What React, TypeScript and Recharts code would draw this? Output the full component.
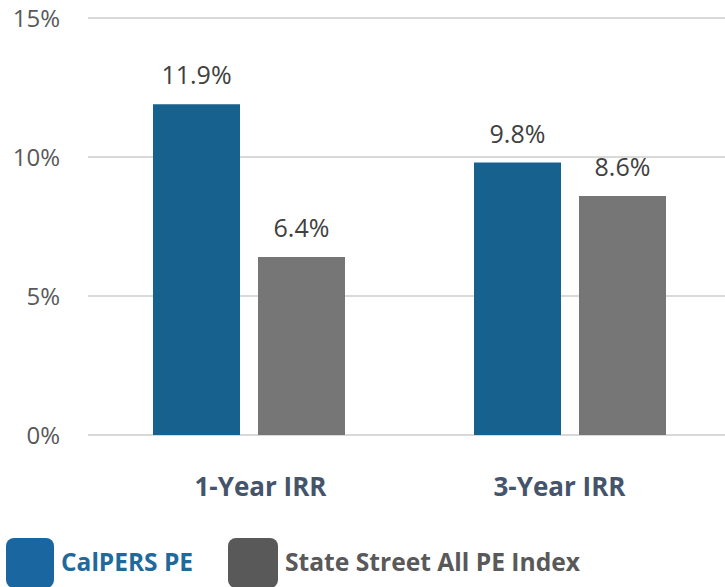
import React from "react";
import { BarChart, Bar, XAxis, YAxis, CartesianGrid, Legend, LabelList } from "recharts";

const categories = ["1-Year IRR", "3-Year IRR"];
const calpersValues = [11.9, 9.8];
const stateStreetValues = [6.4, 8.6];
const yTicks = [0, 5, 10, 15];
const seriesNames = ["CalPERS PE", "State Street All PE Index"];

const data = categories.map((c, i) => ({
  name: c,
  calpers: calpersValues[i],
  stateStreet: stateStreetValues[i],
}));

const FONT = "'Open Sans', 'Liberation Sans', sans-serif";

const LegendContent = () => (
  <svg width={725} height={60} style={{ display: "block" }}>
    <rect x={6} y={11} width={48} height={50} rx={8} fill="#1A66A0" />
    <text x={61} y={44} fontFamily={FONT} fontWeight={700} fontSize={25} fill="#1F6A9B" textLength={132} lengthAdjust="spacingAndGlyphs">
      {seriesNames[0]}
    </text>
    <rect x={228} y={11} width={50} height={50} rx={8} fill="#595959" />
    <text x={285} y={44} fontFamily={FONT} fontWeight={700} fontSize={25} fill="#595959" textLength={295} lengthAdjust="spacingAndGlyphs">
      {seriesNames[1]}
    </text>
  </svg>
);

const tickShift = [12, -10];

const XTick = (props: any) => {
  const { x, y, payload, index } = props;
  return (
    <text
      x={x + (tickShift[index] ?? 0)}
      y={y}
      dy="0.71em"
      textAnchor="middle"
      fill="#44546A"
      fontSize={26}
      fontWeight={700}
      fontFamily={FONT}
    >
      {payload.value}
    </text>
  );
};

export default function App() {
  return (
    <div style={{ position: "absolute", left: 0, top: 0, fontFamily: FONT }}>
      <BarChart
        width={725}
        height={587}
        data={data}
        margin={{ top: 18, right: -5, left: 0, bottom: 0 }}
        barSize={87}
        barGap={18}
      >
        <CartesianGrid vertical={false} stroke="#D9D9D9" strokeWidth={2} />
        <YAxis
          domain={[0, 15]}
          ticks={yTicks}
          width={88}
          axisLine={false}
          tickLine={false}
          tickSize={0}
          tickMargin={28}
          tickFormatter={(v) => `${v}%`}
          tick={{ fill: "#595959", fontSize: 24, fontFamily: FONT }}
        />
        <XAxis
          dataKey="name"
          height={92}
          axisLine={false}
          tickLine={false}
          tickSize={0}
          tickMargin={43}
          tick={<XTick />}
        />
        <Legend
          verticalAlign="bottom"
          height={60}
          wrapperStyle={{ left: 0, bottom: 0, width: 725, height: 60 }}
          content={() => <LegendContent />}
        />
        <Bar dataKey="calpers" name={seriesNames[0]} fill="#17618F" isAnimationActive={false}>
          <LabelList
            dataKey="calpers"
            position="top"
            offset={20}
            formatter={(v: number) => `${v.toFixed(1)}%`}
            style={{ fill: "#404040", fontSize: 25, fontFamily: FONT }}
          />
        </Bar>
        <Bar dataKey="stateStreet" name={seriesNames[1]} fill="#767676" isAnimationActive={false}>
          <LabelList
            dataKey="stateStreet"
            position="top"
            offset={20}
            formatter={(v: number) => `${v.toFixed(1)}%`}
            style={{ fill: "#404040", fontSize: 25, fontFamily: FONT }}
          />
        </Bar>
      </BarChart>
    </div>
  );
}
